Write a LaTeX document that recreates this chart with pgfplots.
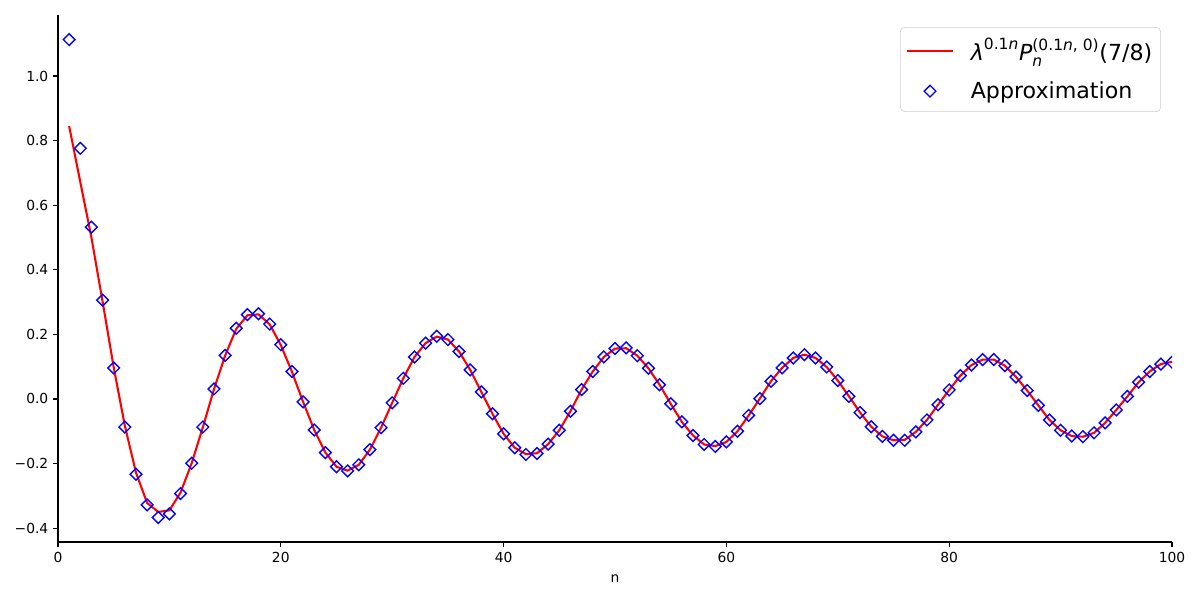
\documentclass[border=0pt]{standalone}
\usepackage{fontspec}
\setmainfont{DejaVu Sans}
\usepackage{amsmath}
\usepackage{pgfplots}
\usepackage{pgfplotstable}
\pgfplotsset{compat=1.18}
\definecolor{mplred}{RGB}{255,0,0}
\definecolor{mplblue}{RGB}{0,0,255}
\definecolor{legframe}{RGB}{204,204,204}
\pgfdeclareplotmark{mpldiamond}{%
  \pgfpathmoveto{\pgfqpoint{0pt}{\pgfplotmarksize}}%
  \pgfpathlineto{\pgfqpoint{\pgfplotmarksize}{0pt}}%
  \pgfpathlineto{\pgfqpoint{0pt}{-\pgfplotmarksize}}%
  \pgfpathlineto{\pgfqpoint{-\pgfplotmarksize}{0pt}}%
  \pgfpathclose\pgfusepathqstroke}

\pgfplotstableread{
n exact approx
1 0.845 1.113
2 0.672 0.776
3 0.500 0.532
4 0.302 0.306
5 0.098 0.096
6 -0.083 -0.087
7 -0.228 -0.233
8 -0.322 -0.328
9 -0.350 -0.367
10 -0.345 -0.356
11 -0.290 -0.293
12 -0.199 -0.199
13 -0.088 -0.087
14 0.030 0.031
15 0.134 0.135
16 0.217 0.219
17 0.259 0.261
18 0.262 0.264
19 0.231 0.232
20 0.167 0.168
21 0.084 0.085
22 -0.009 -0.009
23 -0.096 -0.096
24 -0.166 -0.166
25 -0.210 -0.210
26 -0.222 -0.223
27 -0.204 -0.204
28 -0.157 -0.157
29 -0.089 -0.089
30 -0.012 -0.012
31 0.064 0.064
32 0.130 0.130
33 0.173 0.173
34 0.193 0.194
35 0.184 0.184
36 0.147 0.147
37 0.090 0.090
38 0.022 0.022
39 -0.046 -0.046
40 -0.108 -0.108
41 -0.151 -0.151
42 -0.171 -0.172
43 -0.168 -0.169
44 -0.140 -0.140
45 -0.097 -0.097
46 -0.038 -0.038
47 0.029 0.029
48 0.085 0.085
49 0.130 0.130
50 0.156 0.156
51 0.157 0.158
52 0.134 0.134
53 0.095 0.095
54 0.044 0.044
55 -0.015 -0.015
56 -0.071 -0.071
57 -0.113 -0.113
58 -0.141 -0.141
59 -0.146 -0.147
60 -0.133 -0.133
61 -0.100 -0.100
62 -0.051 -0.051
63 0.001 0.001
64 0.055 0.055
65 0.096 0.096
66 0.127 0.127
67 0.137 0.137
68 0.127 0.127
69 0.099 0.099
70 0.057 0.057
71 0.008 0.008
72 -0.042 -0.042
73 -0.086 -0.086
74 -0.116 -0.116
75 -0.128 -0.128
76 -0.127 -0.128
77 -0.102 -0.102
78 -0.065 -0.065
79 -0.018 -0.018
80 0.028 0.028
81 0.072 0.072
82 0.105 0.105
83 0.122 0.122
84 0.122 0.122
85 0.103 0.103
86 0.068 0.068
87 0.026 0.026
88 -0.020 -0.020
89 -0.065 -0.065
90 -0.097 -0.097
91 -0.115 -0.115
92 -0.117 -0.117
93 -0.105 -0.105
94 -0.074 -0.074
95 -0.034 -0.034
96 0.008 0.008
97 0.052 0.052
98 0.085 0.085
99 0.108 0.108
100 0.115 0.114
}\data

\begin{document}
\begin{tikzpicture}
\useasboundingbox (-0.58in,-0.58in) rectangle (11.42in,5.42in);
\begin{axis}[
  at={(0,0)}, anchor=south west,
  scale only axis,
  width=11.14in, height=5.27in,
  xmin=0, xmax=100, ymin=-0.443, ymax=1.189,
  axis x line*=bottom, axis y line*=left,
  axis line style={line width=0.8pt, black},
  tick align=outside,
  major tick length=3.5pt,
  tick style={line width=0.8pt, black},
  xtick={0,20,40,60,80,100},
  ytick={-0.4,-0.2,0,0.2,0.4,0.6,0.8,1.0},
  yticklabels={−0.4,−0.2,0.0,0.2,0.4,0.6,0.8,1.0},
  xticklabels={0,20,40,60,80,100},
  ticklabel style={font=\fontsize{10}{12}\selectfont},
  xlabel={n},
  xlabel style={font=\fontsize{10}{12}\selectfont, yshift=-2pt},
  clip marker paths=true,
  legend cell align=left,
  legend image code/.code={\draw[mark repeat=2,mark phase=2,#1] plot coordinates {(0in,0in) (0.23in,0in) (0.46in,0in)}; \path (0.60in,0in);},
  legend style={at={(0.990,0.977)}, anchor=north east,
    font=\fontsize{16}{19}\selectfont,
    draw=legframe, rounded corners=3pt, fill=white, fill opacity=0.8, text opacity=1,
    row sep=9.5pt, inner xsep=4pt, inner ysep=6pt},
]
\addplot[color=mplred, line width=1.5pt, no markers] table[x=n, y=exact] {\data};
\addlegendentry{$\text{\itshape λ}^{\text{0.1\itshape n}}\text{\itshape P}_{\text{\itshape n}}^{\text{(0.1\itshape n\upshape, 0)}}\text{(7/8)}$}
\addplot[color=mplblue, only marks, mark=mpldiamond, mark size=4.24pt, mark options={line width=1pt}] table[x=n, y=approx] {\data};
\addlegendentry{Approximation}
\end{axis}
\end{tikzpicture}
\end{document}
